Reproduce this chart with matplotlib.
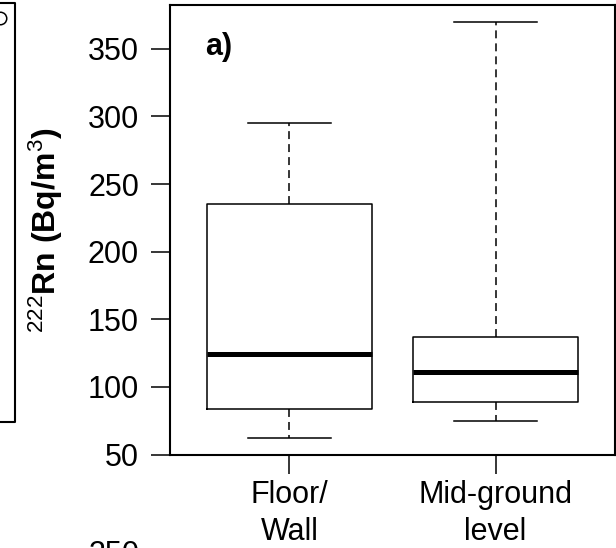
import matplotlib
matplotlib.use('Agg')
import matplotlib.pyplot as plt
from matplotlib.lines import Line2D

# ---- data ----
categories = ['Floor/\nWall', 'Mid-ground\nlevel']
whislo = [62, 75]
q1 = [84, 89]
med = [124, 111]
q3 = [235, 137]
whishi = [295, 370]
yticks = [50, 100, 150, 200, 250, 300, 350]

plt.rcParams['font.family'] = ['Liberation Sans', 'DejaVu Sans']
plt.rcParams['mathtext.fontset'] = 'custom'
plt.rcParams['mathtext.rm'] = 'Liberation Sans'
plt.rcParams['mathtext.bf'] = 'Liberation Sans:bold'
plt.rcParams['mathtext.it'] = 'Liberation Sans:italic'

W, H = 616, 548
fig = plt.figure(figsize=(W / 100, H / 100), dpi=100)
ax = fig.add_axes([170 / W, 1 - 455 / H, 445 / W, 450 / H])

stats = [dict(whislo=a, q1=b, med=c, q3=d, whishi=e, fliers=[], label=l)
         for a, b, c, d, e, l in zip(whislo, q1, med, q3, whishi, categories)]
positions = list(range(1, len(categories) + 1))
ax.bxp(stats, positions=positions, widths=0.8, showfliers=False,
       boxprops=dict(color='black', lw=1.1),
       medianprops=dict(color='black', lw=3.6, solid_capstyle='butt'),
       whiskerprops=dict(color='black', lw=1.1, linestyle=(0, (5.2, 3.3))),
       capprops=dict(color='black', lw=1.1), capwidths=0.4)

rng = max(whishi) - min(whislo)
ax.set_ylim(min(whislo) - 0.04 * rng, max(whishi) + 0.04 * rng)
ax.set_xlim(0.5 - 0.04 * len(categories), len(categories) + 0.5 + 0.04 * len(categories))
ax.set_yticks(yticks)
ax.set_xticks(positions)
ax.set_xticklabels(categories, fontsize=22, linespacing=1.3)
ax.tick_params(axis='y', length=13.7, width=1.1, labelsize=22, pad=8.6)
ax.tick_params(axis='x', length=13.7, width=1.1, labelsize=22, pad=4.5)
for s in ax.spines.values():
    s.set_linewidth(1.5)

fig.text(46 / W, 1 - 230 / H,
         r'$^{\mathrm{222}}\mathbf{Rn\ (Bq/m}^{\mathrm{3}}\mathbf{)}$',
         rotation=90, ha='center', va='center', fontsize=23)
fig.text(205 / W, 1 - 47 / H, 'a)', fontweight='bold', fontsize=22,
         ha='left', va='center')

# fragments of neighbouring panels
fig.add_artist(Line2D([0, 15 / W, 15 / W, 0],
                      [1 - 3 / H, 1 - 3 / H, 1 - 422 / H, 1 - 422 / H],
                      transform=fig.transFigure, color='black', lw=1.5))
fig.add_artist(Line2D([0], [1 - 18 / H], transform=fig.transFigure,
                      marker='o', markersize=9, markerfacecolor='none',
                      markeredgecolor='black', markeredgewidth=1.1))
fig.text(140 / W, 1 - 540 / H, '350', ha='right', va='top', fontsize=22)

fig.savefig('out.png', dpi=100)
